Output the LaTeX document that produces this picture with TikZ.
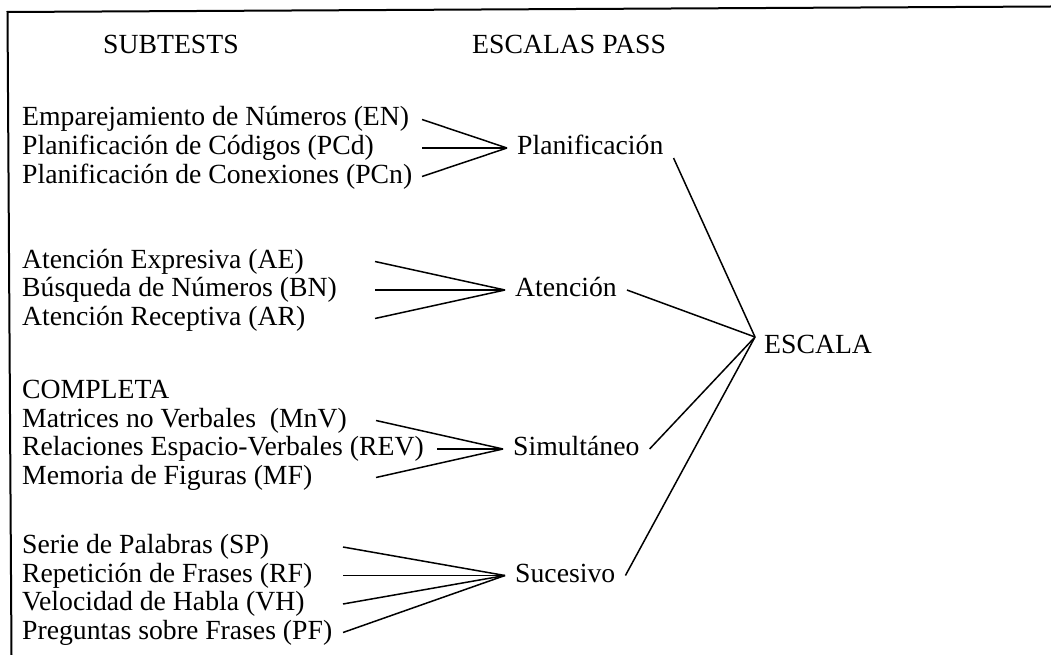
\documentclass[tikz,border=0pt]{standalone}
\usepackage{fontspec}
\setmainfont{Liberation Serif}
\usetikzlibrary{calc}
\tikzstyle{subtest}=[anchor=west, inner sep=0pt, text height=19pt, text depth=6pt]
\tikzstyle{scalelabel}=[anchor=west, inner xsep=10pt, inner ysep=0pt, text height=19pt, text depth=6pt]
\tikzstyle{link}=[line width=1.5pt]
\newcommand{\sitem}[3]{
 \node[subtest] (#1) at (22,#2) {#3};
}
\newcommand{\spoke}[3]{
 \draw[link] (#1,0 |- #2.west) -- (#3.west);
}
\begin{document}
\begin{tikzpicture}[x=1pt, y=-1pt, font=\fontsize{27.7pt}{30pt}\selectfont]
 \useasboundingbox (0,0) rectangle (1051,655);
 \draw[line width=2pt] (11.5,655) -- (7.5,12) -- (1051,6.5);
%
 \node[subtest] (subtests) at (103,47) {SUBTESTS};
 \node[subtest] (pass) at (472,47) {ESCALAS PASS};
%
 \sitem{en}{119.5}{Emparejamiento de Números (EN)}
 \sitem{pcd}{148}{Planificación de Códigos (PCd)}
 \sitem{pcn}{176.5}{Planificación de Conexiones (PCn)}
 \sitem{ae}{261.5}{Atención Expresiva (AE)}
 \sitem{bn}{290}{Búsqueda de Números (BN)}
 \sitem{ar}{318.5}{Atención Receptiva (AR)}
 \sitem{compl}{392}{COMPLETA}
 \sitem{mnv}{420.5}{Matrices no Verbales\ \ (MnV)}
 \sitem{rev}{449}{Relaciones Espacio-Verbales (REV)}
 \sitem{mf}{477.5}{Memoria de Figuras (MF)}
 \sitem{sp}{547}{Serie de Palabras (SP)}
 \sitem{rf}{575.5}{Repetición de Frases (RF)}
 \sitem{vh}{604}{Velocidad de Habla (VH)}
 \sitem{pf}{632.5}{Preguntas sobre Frases (PF)}
%
 \node[scalelabel] (plan) at (507,148) {Planificación};
 \node[scalelabel] (aten) at (505,290) {Atención};
 \node[scalelabel] (simu) at (503,449) {Simultáneo};
 \node[scalelabel] (suce) at (505,575.5) {Sucesivo};
 \coordinate (hub) at (755,337);
 \node[subtest] (escala) at (764,347) {ESCALA};
%
 \spoke{422}{en}{plan}
 \spoke{422}{pcd}{plan}
 \spoke{422}{pcn}{plan}
 \spoke{375}{ae}{aten}
 \spoke{375}{bn}{aten}
 \spoke{375}{ar}{aten}
 \spoke{376}{mnv}{simu}
 \spoke{437}{rev}{simu}
 \spoke{376}{mf}{simu}
 \spoke{343}{sp}{suce}
 \spoke{343}{rf}{suce}
 \spoke{343}{vh}{suce}
 \spoke{343}{pf}{suce}
%
 \draw[link] ($(plan.east)+(0,10)$) -- (hub);
 \draw[link] (aten.east) -- (hub);
 \draw[link] (simu.east) -- (hub);
 \draw[link] (suce.east) -- (hub);
\end{tikzpicture}
\end{document}
